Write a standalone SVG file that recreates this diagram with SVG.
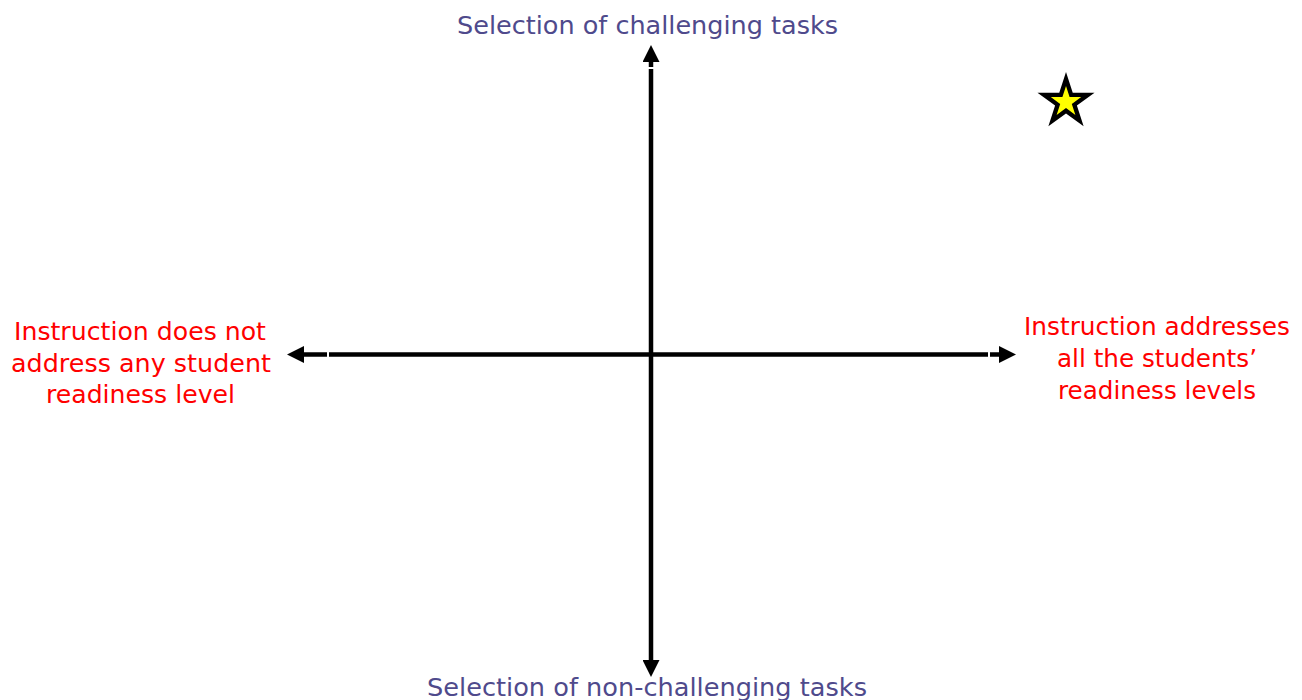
<svg xmlns="http://www.w3.org/2000/svg" width="1302" height="700" viewBox="0 0 1302 700">
  <style>
    .lbl { font-family: "DejaVu Sans", "Liberation Sans", sans-serif; font-size: 25px; text-anchor: middle; }
    .axisY { fill: #4F4A8C; }
    .axisX { fill: #FF0000; }
    .ln { stroke: #000; stroke-width: 4.5; fill: none; stroke-linecap: butt; }
  </style>
  <defs>
    <marker id="ah" viewBox="0 0 17 17" markerWidth="17" markerHeight="17" refX="0" refY="8.5" markerUnits="userSpaceOnUse" orient="auto">
      <path d="M0,0 L17,8.5 L0,17 z" fill="#000"/>
    </marker>
  </defs>
  <rect width="1302" height="700" fill="#fff"/>

  <g id="connectors">
    <line class="ln" x1="651" y1="354.5" x2="329" y2="354.5"/>
    <line class="ln" x1="327" y1="354.5" x2="304" y2="354.5" marker-end="url(#ah)"/>
    <line class="ln" x1="651" y1="354.5" x2="988" y2="354.5"/>
    <line class="ln" x1="990" y1="354.5" x2="999" y2="354.5" marker-end="url(#ah)"/>
    <line class="ln" x1="651" y1="354.5" x2="651" y2="69"/>
    <line class="ln" x1="651" y1="67" x2="651" y2="62" marker-end="url(#ah)"/>
    <line class="ln" x1="651" y1="354.5" x2="651" y2="660" marker-end="url(#ah)"/>
  </g>

  <g id="top-label">
    <text class="lbl axisY" x="647.5" y="34" textLength="381" lengthAdjust="spacingAndGlyphs">Selection of challenging tasks</text>
  </g>
  <g id="bottom-label">
    <text class="lbl axisY" x="647" y="696" textLength="440" lengthAdjust="spacingAndGlyphs">Selection of non-challenging tasks</text>
  </g>
  <g id="left-label">
    <text class="lbl axisX" x="140" y="340" textLength="252" lengthAdjust="spacingAndGlyphs">Instruction does not</text>
    <text class="lbl axisX" x="141" y="372" textLength="260" lengthAdjust="spacingAndGlyphs">address any student</text>
    <text class="lbl axisX" x="140.5" y="403" textLength="189" lengthAdjust="spacingAndGlyphs">readiness level</text>
  </g>
  <g id="right-label">
    <text class="lbl axisX" x="1157" y="335" textLength="266" lengthAdjust="spacingAndGlyphs">Instruction addresses</text>
    <text class="lbl axisX" x="1157" y="367" textLength="200" lengthAdjust="spacingAndGlyphs">all the students’</text>
    <text class="lbl axisX" x="1157" y="399" textLength="198" lengthAdjust="spacingAndGlyphs">readiness levels</text>
  </g>
  <g id="star">
    <polygon points="1066,72 1072.74,92.73 1094.53,92.73 1076.9,105.54 1083.63,126.27 1066,113.46 1048.37,126.27 1055.1,105.54 1037.47,92.73 1059.26,92.73" fill="#000"/>
    <polygon points="1066,86 1069.59,97.06 1081.22,97.06 1071.81,103.89 1075.4,114.94 1066,108.11 1056.6,114.94 1060.19,103.89 1050.78,97.06 1062.41,97.06" fill="#FFFF00"/>
  </g>
</svg>
